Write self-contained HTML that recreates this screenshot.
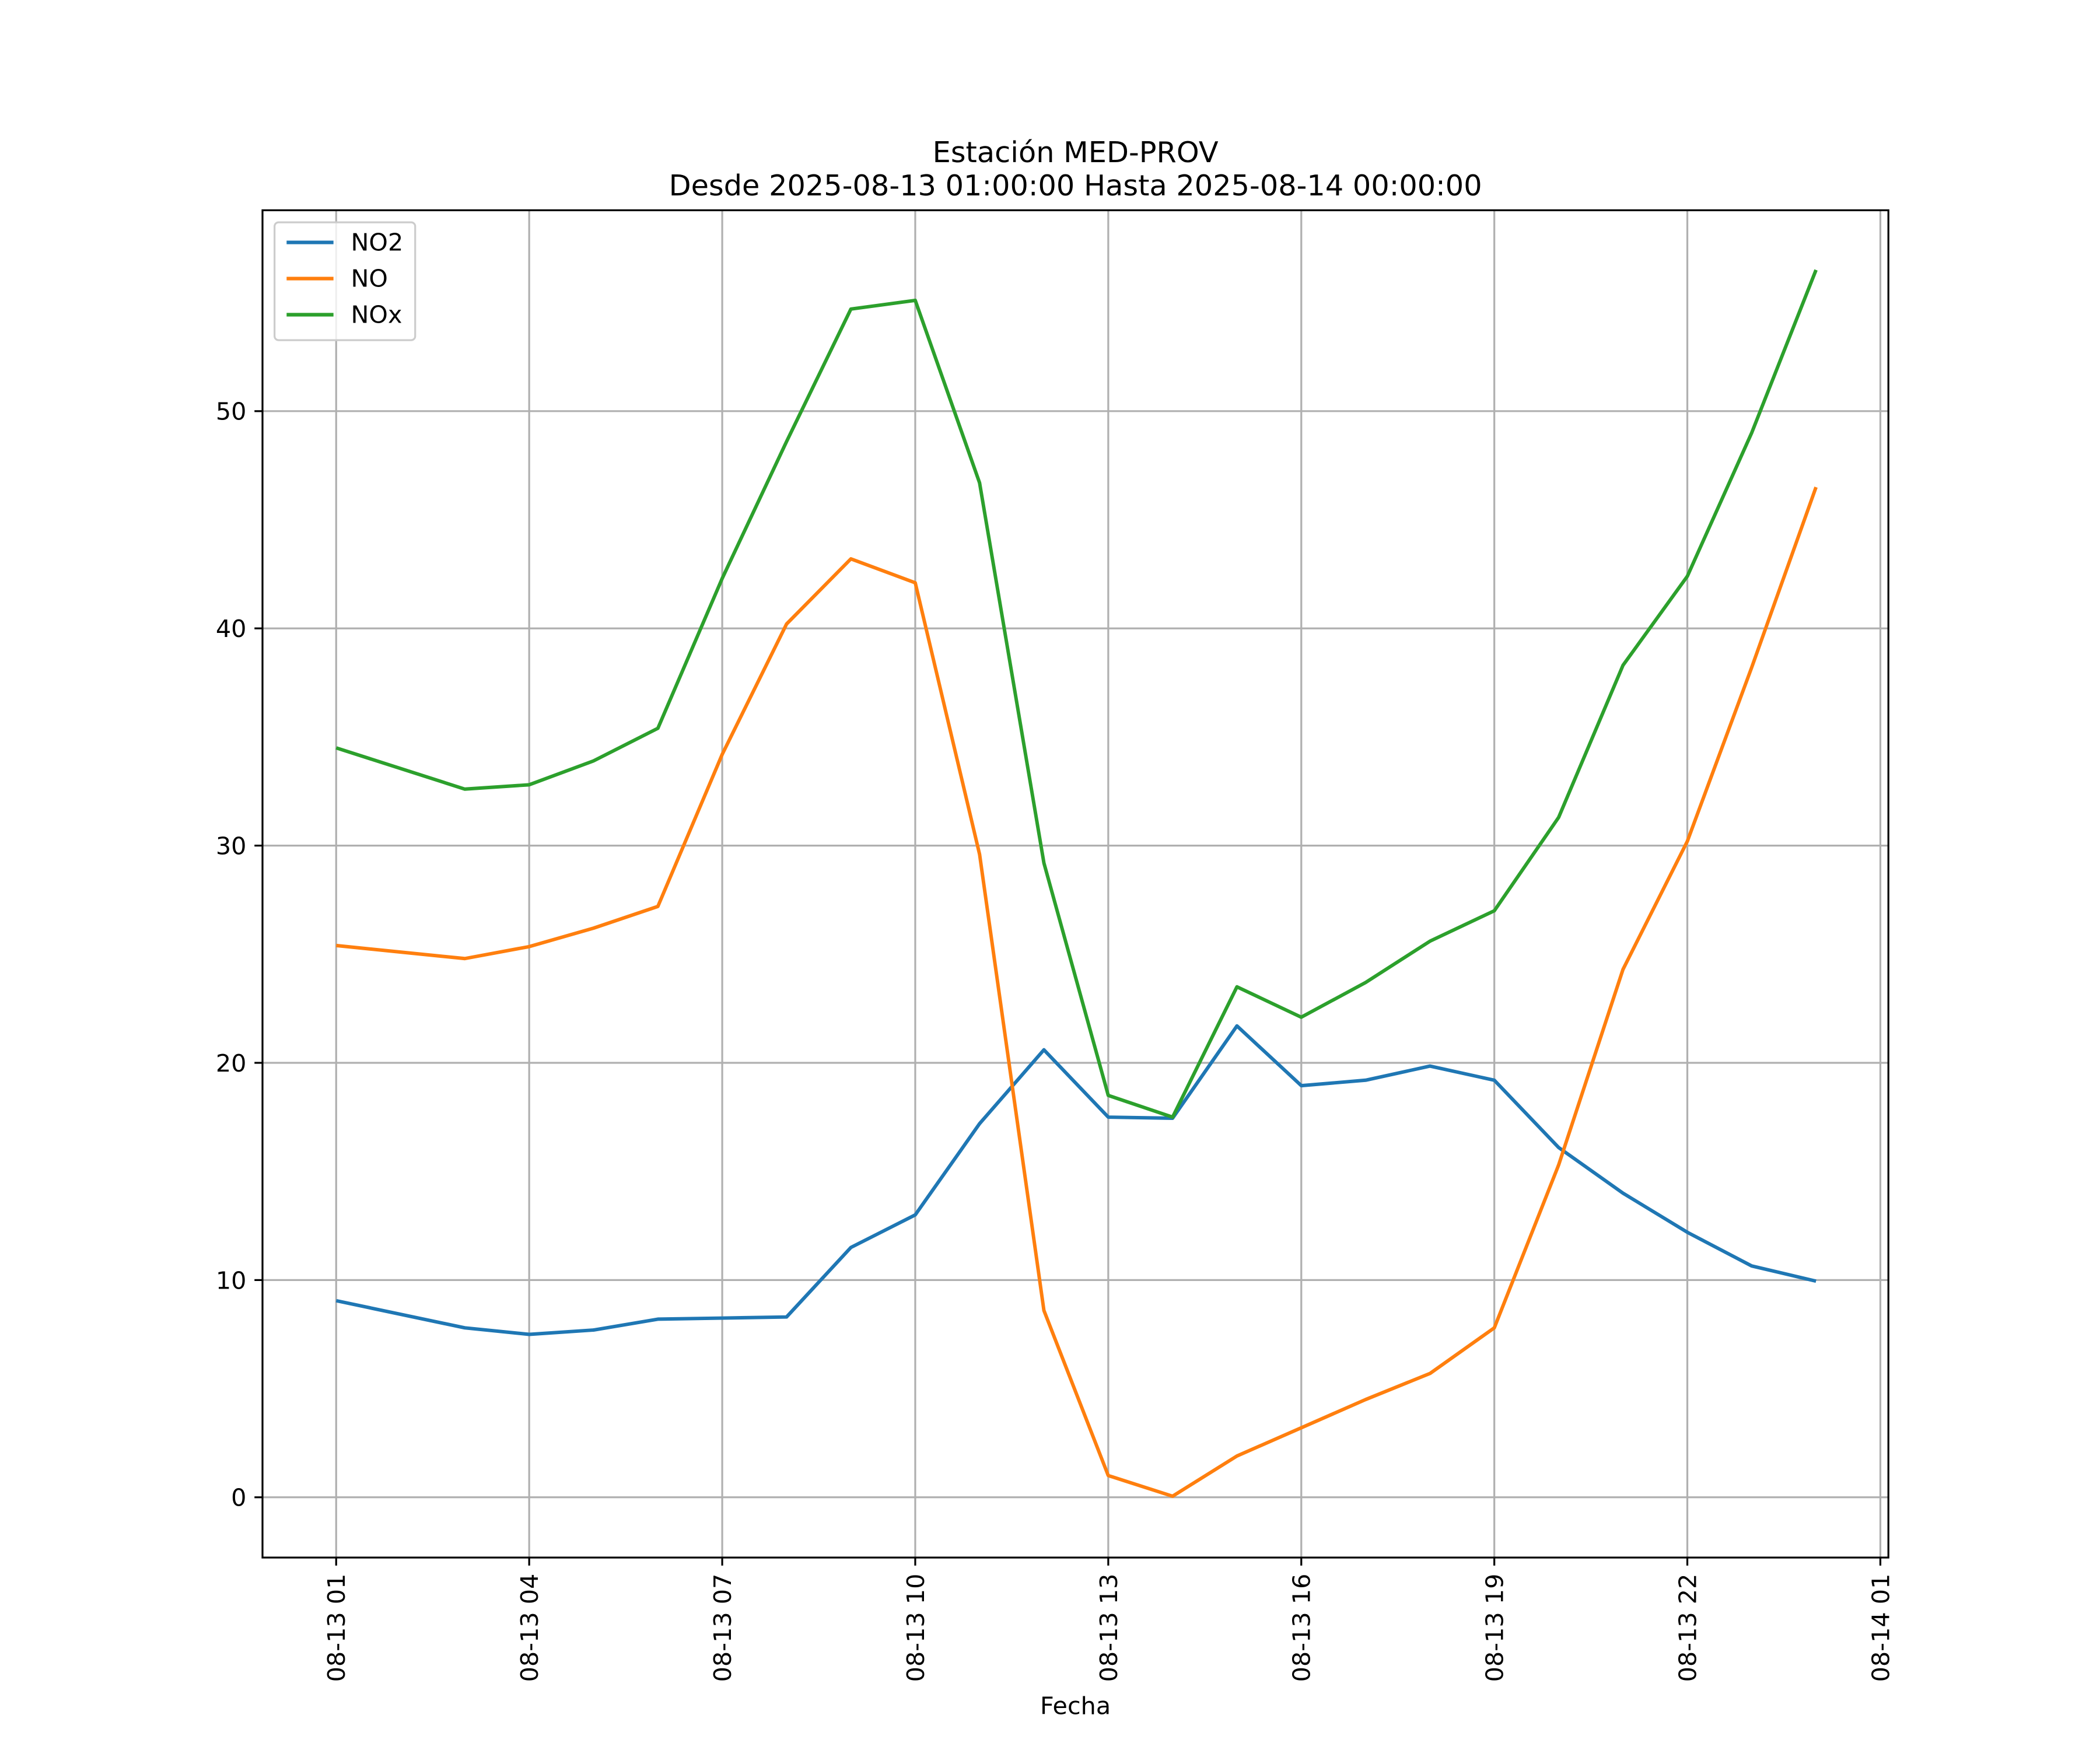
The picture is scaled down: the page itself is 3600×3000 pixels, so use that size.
<!DOCTYPE html>
<html><head><meta charset="utf-8"><style>html,body{margin:0;padding:0;background:#fff}svg{display:block}</style></head>
<body>
<svg id="chart" width="3600" height="3000" viewBox="0 0 1568 1306.7" preserveAspectRatio="none" xmlns="http://www.w3.org/2000/svg" font-family="'DejaVu Sans','Liberation Sans',sans-serif">
<rect width="1568" height="1307" fill="#fff"/>
<text x="803" y="121" font-size="21.5" text-anchor="middle">Estación MED-PROV</text>
<text x="803" y="146" font-size="21.5" text-anchor="middle">Desde 2025-08-13 01:00:00 Hasta 2025-08-14 00:00:00</text>
<g id="grid"></g>
<g id="series"></g>
<rect x="196" y="157" width="1214" height="1006" fill="none" stroke="#000" stroke-width="1.4"/>
<g id="axes"></g>
<text x="803" y="1280" font-size="18" text-anchor="middle">Fecha</text>
<g>
<rect x="205" y="166" width="105" height="88" rx="3" fill="#fff" fill-opacity="0.8" stroke="#ccc" stroke-width="1.4"/>
<line x1="214" y1="181" x2="249" y2="181" stroke="#1f77b4" stroke-width="2.7"/>
<text x="262" y="187" font-size="18">NO2</text>
<line x1="214" y1="208" x2="249" y2="208" stroke="#ff7f0e" stroke-width="2.7"/>
<text x="262" y="214" font-size="18">NO</text>
<line x1="214" y1="235" x2="249" y2="235" stroke="#2ca02c" stroke-width="2.7"/>
<text x="262" y="241" font-size="18">NOx</text>
</g>
</svg>
<script>
const hours = [1,3,4,5,6,7,8,9,10,11,12,13,14,15,16,17,18,19,20,21,22,23,24];
const no2 = [9.05,7.8,7.5,7.7,8.2,8.25,8.3,11.5,13.0,17.2,20.6,17.5,17.45,21.7,18.95,19.2,19.85,19.2,16.1,14.0,12.2,10.65,9.95];
const no = [25.4,24.8,25.35,26.2,27.2,34.2,40.2,43.2,42.1,29.6,8.6,1.0,0.05,1.9,3.2,4.5,5.7,7.8,15.3,24.3,30.2,38.2,46.5];
const nox = [34.5,32.6,32.8,33.9,35.4,42.3,48.6,54.7,55.1,46.7,29.2,18.5,17.5,23.5,22.1,23.7,25.6,27.0,31.3,38.3,42.4,49.0,56.5];
const yTicks = [0,10,20,30,40,50];
const xTickHours = [1,4,7,10,13,16,19,22,25];
const xTickLabels = ["08-13 01","08-13 04","08-13 07","08-13 10","08-13 13","08-13 16","08-13 19","08-13 22","08-14 01"];

const NS="http://www.w3.org/2000/svg";
const X = h => 251 + (h-1)*(1404-251)/24;
const Y = v => 1118 - v*(1118-307)/50;
function mk(tag, attrs, parent){const e=document.createElementNS(NS,tag);for(const k in attrs)e.setAttribute(k,attrs[k]);parent.appendChild(e);return e;}
const grid=document.getElementById('grid'), axes=document.getElementById('axes'), series=document.getElementById('series');
yTicks.forEach(v=>{
  const g=mk('line',{x1:196,x2:1410,y1:Y(v),y2:Y(v),stroke:'#b0b0b0','stroke-width':1.4},grid);
  
  
  const t=mk('line',{x1:190,x2:196,y1:Y(v),y2:Y(v),stroke:'#000','stroke-width':1.4},axes);
  
  
  const l=mk('text',{x:184,y:Y(v)+6.5,'font-size':18,'text-anchor':'end'},axes);
  l.textContent=v;
  
  
});
xTickHours.forEach((h,i)=>{
  const g=mk('line',{x1:X(h),x2:X(h),y1:157,y2:1163,stroke:'#b0b0b0','stroke-width':1.4},grid);
  
  
  const t=mk('line',{x1:X(h),x2:X(h),y1:1163,y2:1169,stroke:'#000','stroke-width':1.4},axes);
  
  
  const l=mk('text',{x:0,y:0,'font-size':18,'text-anchor':'end',transform:`translate(${X(h)+6.5},1175) rotate(-90)`},axes);
  l.textContent=xTickLabels[i];
  
  
});
[[no2,'#1f77b4','no2-line'],[no,'#ff7f0e','no-line'],[nox,'#2ca02c','nox-line']].forEach(([d,c,n])=>{
  const p=mk('polyline',{points:d.map((v,i)=>X(hours[i])+','+Y(v)).join(' '),fill:'none',stroke:c,'stroke-width':2.6,'stroke-linejoin':'round'},series);
  
  
});
</script>
</body></html>
